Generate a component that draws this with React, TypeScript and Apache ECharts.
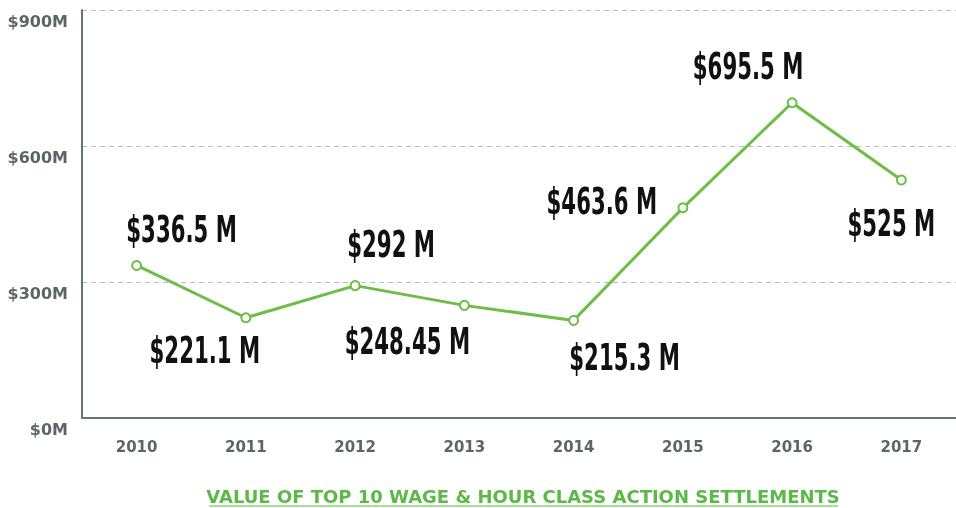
import React, { useEffect, useRef } from "react";
import * as echarts from "echarts";

const years = ["2010", "2011", "2012", "2013", "2014", "2015", "2016", "2017"];
const values = [336.5, 221.1, 292, 248.45, 215.3, 463.6, 695.5, 525];
const labelTexts = ["$336.5 M", "$221.1 M", "$292 M", "$248.45 M", "$215.3 M", "$463.6 M", "$695.5 M", "$525 M"];
const labelOffsets: [number, number][] = [
  [45, -37], [-41, 32], [36, -42], [-57, 35], [51, 36], [-81, -7], [-44, -37], [-10, 42],
];
const yTicks = [0, 300, 600, 900];

export default function App() {
  const ref = useRef<HTMLDivElement>(null);
  useEffect(() => {
    if (!ref.current) return;
    const chart = echarts.init(ref.current, null, { renderer: "svg" });
    const green = "#6dbd47";
    chart.setOption({
      animation: false,
      grid: { left: 82, top: 10, width: 886, height: 408 },
      xAxis: {
        type: "category",
        data: years,
        boundaryGap: true,
        axisLine: { lineStyle: { color: "#6b7475", width: 2 } },
        axisTick: { show: false },
        axisLabel: {
          margin: 21,
          color: "#5d6566",
          fontFamily: "DejaVu Sans",
          fontWeight: "bold",
          fontSize: 15,
        },
      },
      yAxis: {
        type: "value",
        min: 0,
        max: 900,
        interval: 300,
        axisLine: { show: true, lineStyle: { color: "#6b7475", width: 2 } },
        axisTick: { show: false },
        splitLine: { lineStyle: { color: "#bcbcbc", type: [5, 4], width: 1 } },
        axisLabel: {
          margin: 14,
          color: "#5d6566",
          fontFamily: "DejaVu Sans",
          fontWeight: "bold",
          fontSize: 16,
          verticalAlign: "top",
          padding: [3, 0, 0, 0],
          formatter: (v: number) => (yTicks.includes(v) ? `$${v}M` : ""),
        },
      },
      series: [
        {
          type: "line",
          data: values,
          symbol: "emptyCircle",
          symbolSize: 9,
          lineStyle: { color: green, width: 3 },
          itemStyle: { color: green, borderColor: green, borderWidth: 2 },
          z: 2,
        },
        {
          type: "custom",
          data: values.map((v, i) => [i, v]),
          z: 3,
          renderItem: (params: any, api: any) => {
            const i = params.dataIndex;
            const p = api.coord([api.value(0), api.value(1)]);
            return {
              type: "text",
              x: p[0] + labelOffsets[i][0],
              y: p[1] + labelOffsets[i][1],
              scaleX: 0.56,
              style: {
                text: labelTexts[i],
                fill: "#111111",
                font: "bold 38px 'DejaVu Sans'",
                align: "center",
                verticalAlign: "middle",
              },
            };
          },
        },
      ],
      graphic: [
        {
          type: "text",
          x: 523,
          y: 496,
          style: {
            text: "VALUE OF TOP 10 WAGE & HOUR CLASS ACTION SETTLEMENTS",
            fill: "#5cb847",
            font: "bold 18px 'DejaVu Sans'",
            align: "center",
            verticalAlign: "middle",
          },
        },
        {
          type: "line",
          shape: { x1: 209, y1: 506, x2: 838, y2: 506 },
          style: { stroke: "#8fd07a", lineWidth: 1.5 },
        },
      ],
    });
    return () => chart.dispose();
  }, []);
  return <div ref={ref} style={{ width: 956, height: 508, position: "fixed", left: 0, top: 0 }} />;
}
